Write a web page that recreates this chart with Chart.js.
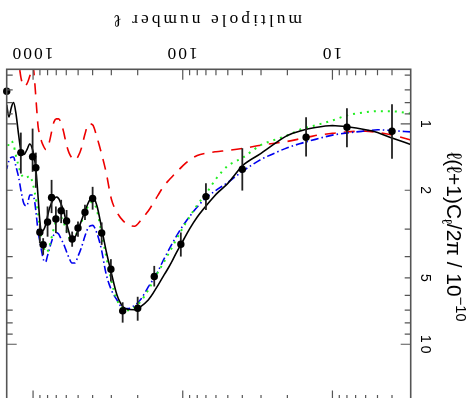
<!DOCTYPE html>
<html>
<head>
<meta charset="utf-8">
<script src="https://cdn.jsdelivr.net/npm/chart.js@4.4.0/dist/chart.umd.min.js"></script>
<style>
  html, body { margin: 0; padding: 0; background: #fff; }
  #wrap { position: relative; width: 467px; height: 398px; overflow: hidden; }
  /* the figure is shown turned through 180 degrees */
  #turn { position: absolute; left: 0; top: 0; width: 467px; height: 408px; transform: rotate(180deg); }
  canvas { display: block; }
</style>
</head>
<body>
<div id="wrap"><div id="turn"><canvas id="cl" width="467" height="408"></canvas></div></div>
<script>
// multipoles at which the model spectra are sampled
const ell = [3, 4, 5, 6, 8, 10, 13, 16, 20, 25, 30, 40, 50, 60, 70, 80, 90,
  100, 110, 120, 135, 150, 170, 190, 210, 230, 250, 275, 300, 325, 350, 375,
  400, 425, 450, 475, 500, 525, 550, 575, 600, 625, 650, 675, 700, 725, 750,
  775, 800, 825, 850, 875, 900, 925, 950, 975, 1000, 1050, 1100, 1150, 1200,
  1250, 1300, 1350, 1400, 1450, 1500];

// l(l+1)C_l/2pi in units of 1e-10
const bestFit = [1.240, 1.158, 1.095, 1.063, 1.030, 1.018, 1.038, 1.071, 1.128,
  1.245, 1.360, 1.55, 1.861, 2.089, 2.356, 2.644, 2.997, 3.408, 3.830, 4.298,
  4.923, 5.552, 6.295, 6.737, 6.972, 6.95, 6.77, 5.974, 4.746, 3.772, 2.920,
  2.344, 2.138, 2.259, 2.483, 2.742, 3.028, 3.274, 3.362, 3.109, 2.785, 2.483,
  2.307, 2.179, 2.145, 2.190, 2.272, 2.406, 2.616, 2.874, 3.028, 3.06, 2.785,
  2.167, 1.704, 1.457, 1.333, 1.233, 1.312, 1.375, 1.340, 1.116, 0.901, 0.799,
  0.846, 0.930, 0.820];

const modelDotted = [0.896, 0.876, 0.875, 0.885, 0.915, 0.964, 1.015, 1.054,
  1.128, 1.188, 1.245, 1.427, 1.551, 1.777, 2.078, 2.332, 2.644, 2.966, 3.327,
  3.713, 4.29, 4.846, 5.670, 6.36, 6.81, 7.01, 6.92, 6.295, 5.16, 3.974, 3.093,
  2.457, 2.259, 2.332, 2.535, 2.785, 3.028, 3.257, 3.415, 3.274, 3.028, 2.80,
  2.644, 2.589, 2.728, 2.966, 3.257, 3.561, 3.79, 3.83, 3.617, 3.362, 2.966,
  2.575, 2.259, 2.046, 1.892, 1.722, 1.749, 1.759, 1.686, 1.551, 1.397, 1.245,
  1.194, 1.233, 1.312];

const modelDashDot = [1.087, 1.073, 1.063, 1.076, 1.099, 1.124, 1.175, 1.222,
  1.282, 1.368, 1.449, 1.643, 1.843, 2.004, 2.167, 2.381, 2.630, 2.904, 3.224,
  3.580, 4.165, 4.822, 5.494, 6.230, 6.667, 6.88, 6.88, 6.295, 5.67, 4.80,
  3.694, 3.125, 2.888, 2.935, 3.224, 3.636, 3.974, 4.276, 4.276, 4.057, 3.772,
  3.505, 3.327, 3.158, 3.11, 3.175, 3.397, 3.655, 3.953, 4.23, 4.16, 3.81,
  3.415, 3.093, 2.616, 2.259, 2.11, 2.101, 2.356, 2.307, 2.035, 1.740, 1.567,
  1.412, 1.419, 1.472, 1.600];

const modelDashed = [1.184, 1.122, 1.093, 1.078, 1.087, 1.104, 1.129, 1.163,
  1.200, 1.226, 1.249, 1.293, 1.320, 1.337, 1.358, 1.390, 1.457, 1.551, 1.652,
  1.759, 1.93, 2.167, 2.483, 2.728, 2.913, 2.874, 2.756, 2.522, 2.190, 1.66,
  1.354, 1.146, 1.010, 0.998, 1.110, 1.285, 1.404, 1.457, 1.427, 1.354, 1.233,
  1.087, 0.990, 0.949, 0.949, 0.979, 1.076, 1.194, 1.285, 1.305, 1.265, 1.207,
  1.122, 1.032, 0.820, 0.645, 0.545, 0.605, 0.658, 0.672, 0.625, 0.523, 0.461,
  0.438, 0.438, 0.461, 0.502];

// measured band powers with 1-sigma ranges
const bandL = [4, 8, 15, 40, 70, 103, 155, 200, 252, 302, 348, 400, 450, 501,
  548, 597, 649, 704, 752, 800, 856, 901, 958, 1007, 1207, 1500];
const bandPower = [1.08, 1.035, 1.149, 1.606, 2.138, 3.516, 4.93, 6.87, 7.06,
  4.57, 3.13, 2.18, 2.52, 2.97, 3.33, 2.76, 2.48, 2.70, 2.16, 2.79, 3.54, 3.10,
  1.58, 1.41, 1.35, 0.711];
const bandLow = [0.814, 0.849, 0.932, 1.289, 1.859, 3.11, 4.41, 6.09, 6.45,
  4.11, 2.80, 1.93, 2.33, 2.77, 3.08, 2.46, 2.21, 2.37, 1.795, 2.37, 3.30, 2.83,
  1.35, 1.05, 1.095, 0.711];
const bandHigh = [1.44, 1.276, 1.407, 2.007, 2.456, 4.0, 5.47, 7.82, 7.98,
  5.19, 3.54, 2.45, 2.73, 3.25, 3.61, 3.13, 2.82, 3.13, 2.54, 3.25, 3.93, 3.48,
  1.95, 1.65, 1.68, 0.711];

// axis labelling
const xTickLabels = [10, 100, 1000];
const yTickLabels = [1, 2, 5, 10];
const xTitle = 'multipole number ℓ';

const xRange = [3, 1500];
const yRange = [0.565, 18.1];

const pairs = (xs, ys) => xs.map((v, i) => ({ x: v, y: ys[i] }));

function logTicks(lo, hi) {
  const out = [];
  for (let e = -2; e <= 4; e++) {
    for (let k = 1; k <= 9; k++) {
      const v = k * Math.pow(10, e);
      if (v >= lo * 1.0001 && v <= hi / 1.0001) out.push({ v, major: k === 1 });
    }
  }
  return out;
}

// centred text with extra tracking between the glyphs
function spacedText(ctx, text, cx, baseY, spacing) {
  ctx.letterSpacing = '0px';
  const plain = ctx.measureText(text).width;
  const w = plain + spacing * (Array.from(text).length - 1);
  ctx.letterSpacing = spacing + 'px';
  ctx.textAlign = 'left';
  ctx.fillText(text, cx - w / 2, baseY);
  ctx.letterSpacing = '0px';
}

const axesDecor = {
  id: 'axesDecor',
  beforeDatasetDraw(chart, args) {
    if (args.index !== 0) return;
    const { ctx, scales: { x, y } } = chart;
    ctx.save();
    ctx.strokeStyle = '#222';
    ctx.lineWidth = 1.8;
    bandL.forEach((l, i) => {
      const px = x.getPixelForValue(l);
      ctx.beginPath();
      ctx.moveTo(px, y.getPixelForValue(bandLow[i]));
      ctx.lineTo(px, y.getPixelForValue(bandHigh[i]));
      ctx.stroke();
    });
    ctx.restore();
  },
  afterDraw(chart) {
    const { ctx, chartArea: ca, scales: { x, y } } = chart;
    ctx.save();
    ctx.strokeStyle = '#555';
    ctx.lineWidth = 1.6;
    ctx.strokeRect(ca.left, ca.top, ca.right - ca.left, ca.bottom - ca.top);

    ctx.lineWidth = 1.2;
    ctx.beginPath();
    for (const t of logTicks(xRange[0], xRange[1])) {
      const px = x.getPixelForValue(t.v);
      const len = t.major ? 10.5 : 6;
      ctx.moveTo(px, ca.bottom); ctx.lineTo(px, ca.bottom - len);
      ctx.moveTo(px, ca.top); ctx.lineTo(px, ca.top + len);
    }
    for (const t of logTicks(yRange[0], yRange[1])) {
      const py = y.getPixelForValue(t.v);
      const len = t.major ? 10 : 6;
      ctx.moveTo(ca.left, py); ctx.lineTo(ca.left + len, py);
      ctx.moveTo(ca.right, py); ctx.lineTo(ca.right - len, py);
    }
    ctx.stroke();

    ctx.fillStyle = '#000';
    ctx.textBaseline = 'alphabetic';
    ctx.font = '17.5px "Liberation Serif", serif';
    for (const v of xTickLabels) {
      spacedText(ctx, String(v), x.getPixelForValue(v), ca.bottom + 21, 2);
    }
    spacedText(ctx, xTitle, (ca.left + ca.right) / 2 + 1, ca.bottom + 54, 3);

    ctx.font = '14px "Liberation Sans", sans-serif';
    for (const v of yTickLabels) {
      ctx.save();
      ctx.translate(ca.left - 10, y.getPixelForValue(v));
      ctx.rotate(-Math.PI / 2);
      spacedText(ctx, String(v), 0, 0, 3);
      ctx.restore();
    }

    // y-axis title with sub- and superscript pieces
    const size = 21;
    const parts = [
      { t: 'ℓ(ℓ+1)C', s: 1, dy: 0 },
      { t: 'ℓ', s: 0.7, dy: 0.22 },
      { t: '/2π / 10', s: 1, dy: 0 },
      { t: '−10', s: 0.7, dy: -0.45 }
    ];
    ctx.save();
    ctx.translate(20, 171);
    ctx.rotate(-Math.PI / 2);
    ctx.textAlign = 'left';
    ctx.letterSpacing = '0px';
    let total = 0;
    for (const p of parts) {
      ctx.font = (size * p.s) + 'px "Liberation Sans", sans-serif';
      p.w = ctx.measureText(p.t).width;
      total += p.w;
    }
    let cx = -total / 2;
    for (const p of parts) {
      ctx.font = (size * p.s) + 'px "Liberation Sans", sans-serif';
      ctx.fillText(p.t, cx, p.dy * size);
      cx += p.w;
    }
    ctx.restore();
    ctx.restore();
  }
};

new Chart(document.getElementById('cl'), {
  type: 'line',
  data: {
    datasets: [
      {
        label: 'band powers',
        data: pairs(bandL, bandPower),
        showLine: false,
        pointRadius: 3.7,
        pointBackgroundColor: '#000',
        pointBorderWidth: 0,
        clip: false
      },
      {
        label: 'best fit',
        data: pairs(ell, bestFit),
        borderColor: '#000',
        borderWidth: 1.6,
        pointRadius: 0,
        cubicInterpolationMode: 'monotone'
      },
      {
        label: 'model dotted',
        data: pairs(ell, modelDotted),
        borderColor: '#22ee22',
        borderWidth: 2,
        borderDash: [2, 5],
        pointRadius: 0,
        cubicInterpolationMode: 'monotone'
      },
      {
        label: 'model dash-dot',
        data: pairs(ell, modelDashDot),
        borderColor: '#0000ee',
        borderWidth: 1.6,
        borderDash: [8, 3, 1.5, 3],
        pointRadius: 0,
        cubicInterpolationMode: 'monotone'
      },
      {
        label: 'model dashed',
        data: pairs(ell, modelDashed),
        borderColor: '#ee0000',
        borderWidth: 1.6,
        borderDash: [11, 8],
        pointRadius: 0,
        cubicInterpolationMode: 'monotone'
      }
    ]
  },
  options: {
    responsive: false,
    animation: false,
    devicePixelRatio: 1,
    events: [],
    layout: { padding: { left: 56.3, right: 6.7, top: 7, bottom: 69.3 } },
    plugins: { legend: { display: false }, tooltip: { enabled: false } },
    scales: {
      x: { type: 'logarithmic', min: xRange[0], max: xRange[1], bounds: 'data', display: false },
      y: { type: 'logarithmic', min: yRange[0], max: yRange[1], bounds: 'data', display: false }
    }
  },
  plugins: [axesDecor]
});
</script>
</body>
</html>
